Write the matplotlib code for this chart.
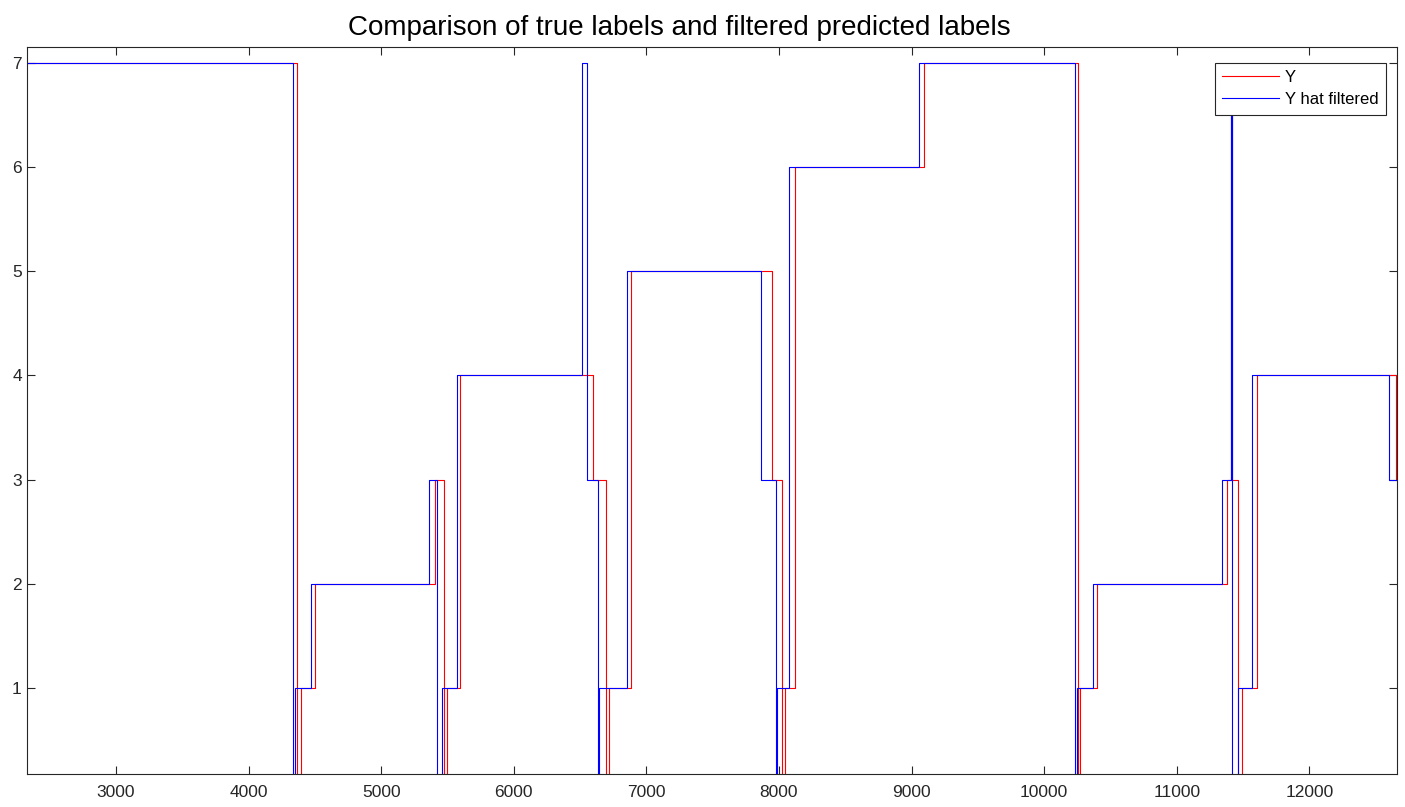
import matplotlib.pyplot as plt

plt.rcParams['font.family'] = ['Liberation Sans', 'DejaVu Sans']

# step breakpoints (sample index, label) for the true labels
y_x = [2300, 4364, 4393, 4500, 5405, 5475, 5498, 5596, 6600, 6692, 6719, 6882,
       7945, 8023, 8043, 8121, 9091, 10255, 10273, 10397, 11380, 11460, 11494,
       11602, 12649, 12700]
y_val = [7, 0, 1, 2, 3, 0, 1, 4, 3, 0, 1, 5,
         3, 0, 1, 6, 7, 0, 1, 2, 3, 0, 1,
         4, 3, 3]

# step breakpoints for the filtered predictions
yhat_x = [2300, 4336, 4354, 4468, 5360, 5422, 5458, 5572, 6516, 6554, 6637, 6643,
          6857, 7868, 7980, 7985, 8076, 9058, 10229, 10245, 10370, 11342, 11410,
          11412, 11414, 11417, 11460, 11569, 12600, 12700]
yhat_val = [7, 0, 1, 2, 3, 0, 1, 4, 7, 3, 0, 1,
            5, 3, 0, 1, 6, 7, 0, 1, 2, 3, 7,
            3, 7, 0, 1, 4, 3, 3]

xtick_vals = list(range(3000, 12001, 1000))
ytick_vals = [1, 2, 3, 4, 5, 6, 7]

fig = plt.figure(figsize=(14.05, 8.07), dpi=100)
ax = fig.add_axes([0.019, 0.0405, 0.975, 0.9009])

ax.plot(y_x, y_val, color='red', lw=0.8, drawstyle='steps-post', label='Y')
ax.plot(yhat_x, yhat_val, color='blue', lw=0.8, drawstyle='steps-post', label='Y hat filtered')

ax.set_xlim(2327, 12657)
ax.set_ylim(0.172, 7.148)
ax.set_xticks(xtick_vals)
ax.set_yticks(ytick_vals)

ax.tick_params(direction='in', top=True, right=True, length=6, width=0.8,
               colors='#262626', labelsize=12.5, labelcolor='#262626')
ax.tick_params(axis='x', pad=8)
for s in ax.spines.values():
    s.set_color('#262626')
    s.set_linewidth(0.8)

ax.set_title('Comparison of true labels and filtered predicted labels', fontsize=20,
             x=0.4766, pad=9)

leg = ax.legend(loc='upper right', bbox_to_anchor=(1386 / 1405, 1 - 62.5 / 807),
                bbox_transform=fig.transFigure, fontsize=12, fancybox=False,
                framealpha=1, edgecolor='#262626', borderaxespad=0,
                handlelength=3.4, handletextpad=0.35, labelspacing=0.42,
                borderpad=0.45)
leg.get_frame().set_linewidth(0.8)

fig.savefig('out.png', dpi=100)
